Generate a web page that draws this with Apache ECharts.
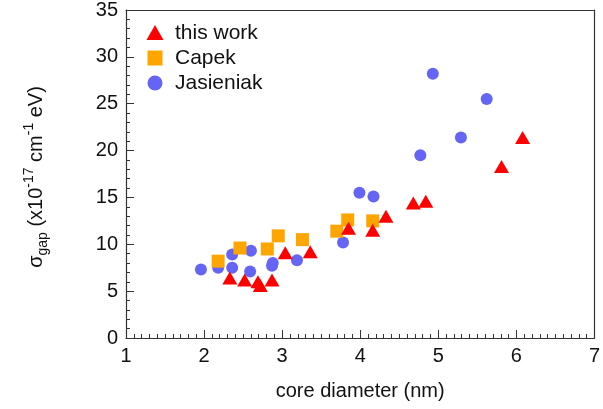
<!DOCTYPE html>
<html>
<head>
<meta charset="utf-8">
<script src="https://cdn.jsdelivr.net/npm/echarts@6/dist/echarts.min.js"></script>
<style>
  html, body { margin: 0; padding: 0; background: #fff; }
  #chart { width: 603px; height: 409px; }
</style>
</head>
<body>
<div id="chart"></div>
<script>
// Gap cross-section versus core diameter, three data sets
const seriesNames = ['this work', 'Capek', 'Jasieniak'];

// [core diameter (nm), sigma_gap (1e-17 cm^-1 eV)]
const thisWork = [
  [2.33, 6.4], [2.52, 6.2], [2.69, 6.0], [2.72, 5.6], [2.87, 6.2],
  [3.04, 9.1], [3.36, 9.2], [3.85, 11.7], [4.16, 11.5], [4.33, 13.0],
  [4.68, 14.4], [4.84, 14.6], [5.81, 18.3], [6.08, 21.4]
];
const capek = [
  [2.18, 8.2], [2.46, 9.6], [2.81, 9.5], [2.95, 10.9], [3.26, 10.5],
  [3.70, 11.4], [3.84, 12.6], [4.16, 12.5]
];
const jasieniak = [
  [1.96, 7.3], [2.18, 7.5], [2.36, 8.9], [2.36, 7.5], [2.60, 9.3],
  [2.59, 7.1], [2.88, 8.0], [2.87, 7.7], [3.19, 8.3], [3.78, 10.2],
  [3.99, 15.5], [4.17, 15.1], [4.77, 19.5], [4.93, 28.2], [5.29, 21.4],
  [5.62, 25.5]
];

const xTicks = [1, 2, 3, 4, 5, 6, 7];
const yTicks = [0, 5, 10, 15, 20, 25, 30, 35];

const colors = { tri: '#ff0000', sq: '#ffa500', circ: '#6464f5' };
const axisColor = '#333';
const textColor = '#111';

const chart = echarts.init(document.getElementById('chart'));

// plain frame edges on the top and right
const frameAxis = (min, max, position) => ({
  type: 'value', min, max, position,
  axisLine: { show: true, onZero: false, lineStyle: { color: axisColor, width: 1.2 } },
  axisTick: { show: false }, minorTick: { show: false },
  axisLabel: { show: false }, splitLine: { show: false }
});

// key in the upper-left corner of the plot: symbol + series name per row
const keyRows = [
  { name: seriesNames[0], color: colors.tri, shape: 'triangle' },
  { name: seriesNames[1], color: colors.sq, shape: 'rect' },
  { name: seriesNames[2], color: colors.circ, shape: 'circle' }
];
const keyLeft = 155, keyTop = 33, keyStep = 25;
const keyGraphics = [];
keyRows.forEach((row, i) => {
  const cy = keyTop + i * keyStep;
  if (row.shape === 'triangle') {
    keyGraphics.push({ type: 'polygon', silent: true,
      shape: { points: [[keyLeft, cy - 8], [keyLeft + 8.5, cy + 7], [keyLeft - 8.5, cy + 7]] },
      style: { fill: row.color } });
  } else if (row.shape === 'rect') {
    keyGraphics.push({ type: 'rect', silent: true,
      shape: { x: keyLeft - 7.5, y: cy - 7.5, width: 15, height: 15 },
      style: { fill: row.color } });
  } else {
    keyGraphics.push({ type: 'circle', silent: true,
      shape: { cx: keyLeft, cy: cy, r: 7.5 },
      style: { fill: row.color } });
  }
  keyGraphics.push({ type: 'text', silent: true, x: keyLeft + 20, y: cy,
    style: { text: row.name, fontSize: 21, fill: textColor, align: 'left', verticalAlign: 'middle' } });
});

chart.setOption({
  animation: false,
  grid: { left: 126, right: 4, top: 8, bottom: 71 },
  graphic: [
    // vertical title of the value axis, with sub- and superscripts
    {
      type: 'text',
      x: 36, y: 177,
      rotation: Math.PI / 2,
      silent: true,
      style: {
        text: '{t|σ}{sub|gap}{t| (x10}{sup|-17}{t| cm}{sup|-1}{t| eV)}',
        align: 'center', verticalAlign: 'middle',
        fill: textColor,
        rich: {
          t: { fontSize: 20, lineHeight: 28, verticalAlign: 'middle', fill: textColor },
          sub: { fontSize: 14, lineHeight: 28, verticalAlign: 'bottom', fill: textColor },
          sup: { fontSize: 14, lineHeight: 28, verticalAlign: 'top', fill: textColor }
        }
      }
    }
  ].concat(keyGraphics),
  xAxis: [{
    type: 'value', position: 'bottom',
    min: xTicks[0], max: xTicks[xTicks.length - 1], interval: 1,
    name: 'core diameter (nm)',
    nameLocation: 'middle', nameGap: 43,
    nameTextStyle: { fontSize: 20, color: textColor },
    axisLine: { show: true, onZero: false, lineStyle: { color: axisColor, width: 1.2 } },
    axisTick: { show: true, inside: true, length: 8, lineStyle: { color: axisColor, width: 1 } },
    minorTick: { show: true, splitNumber: 10, length: 4, lineStyle: { color: axisColor, width: 1 } },
    axisLabel: { show: true, fontSize: 20, color: textColor, margin: 8 },
    splitLine: { show: false }
  }, frameAxis(xTicks[0], xTicks[xTicks.length - 1], 'top')],
  yAxis: [{
    type: 'value', position: 'left',
    min: yTicks[0], max: yTicks[yTicks.length - 1], interval: 5,
    axisLine: { show: true, onZero: false, lineStyle: { color: axisColor, width: 1.2 } },
    axisTick: { show: true, inside: true, length: 8, lineStyle: { color: axisColor, width: 1 } },
    minorTick: { show: true, splitNumber: 5, length: 4, lineStyle: { color: axisColor, width: 1 } },
    axisLabel: { show: true, fontSize: 20, color: textColor, margin: 8 },
    splitLine: { show: false }
  }, frameAxis(yTicks[0], yTicks[yTicks.length - 1], 'right')],
  series: [
    {
      name: seriesNames[2], type: 'scatter', data: jasieniak,
      symbol: 'circle', symbolSize: 12, z: 2,
      itemStyle: { color: colors.circ, opacity: 1 }
    },
    {
      name: seriesNames[1], type: 'scatter', data: capek,
      symbol: 'rect', symbolSize: 13, z: 3,
      itemStyle: { color: colors.sq, opacity: 1 }
    },
    {
      name: seriesNames[0], type: 'scatter', data: thisWork,
      symbol: 'triangle', symbolSize: [15, 13], z: 4,
      itemStyle: { color: colors.tri, opacity: 1 }
    }
  ]
});
</script>
</body>
</html>
